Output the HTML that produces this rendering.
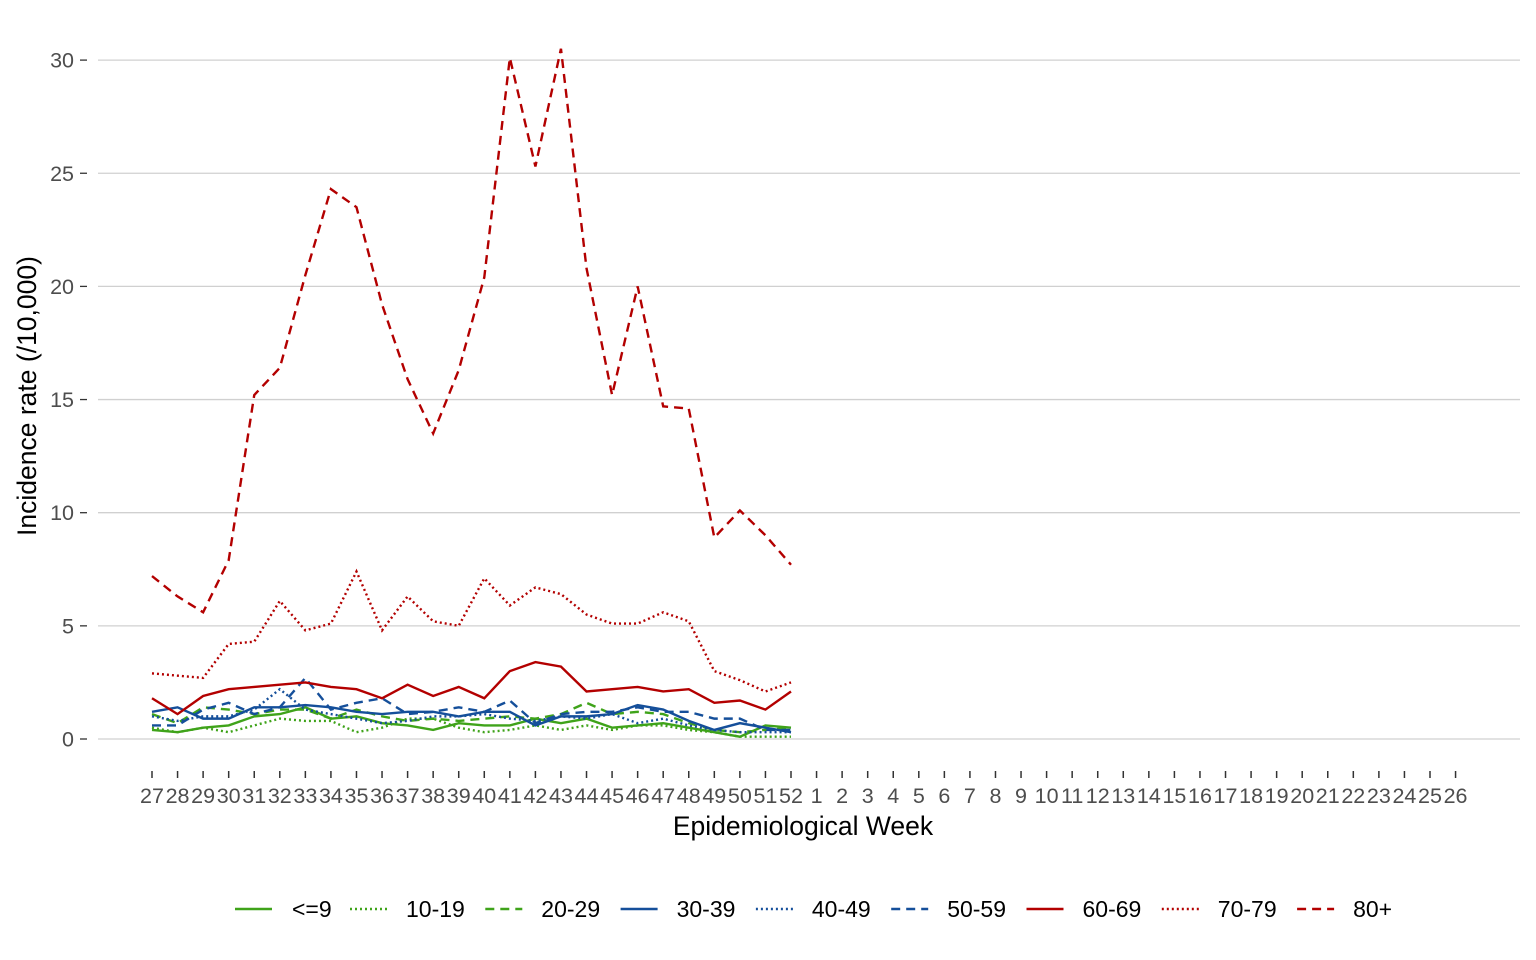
<!DOCTYPE html>
<html><head><meta charset="utf-8"><style>
body{margin:0;background:#fff}
svg{display:block;font-family:"Liberation Sans",sans-serif}
</style></head><body>
<svg id="s" width="1536" height="960" xmlns="http://www.w3.org/2000/svg">
<rect width="1536" height="960" fill="#fff"/>
<g id="grid"></g>
<g id="lines"></g>
<text x="803" y="835" font-size="26.5" text-anchor="middle" fill="#000">Epidemiological Week</text>
<text transform="translate(36,396) rotate(-90)" font-size="26.5" text-anchor="middle" fill="#000">Incidence rate (/10,000)</text>
<g id="leg"></g>
</svg>
<script>
const NS="http://www.w3.org/2000/svg";
function el(p,t,a,txt){const e=document.createElementNS(NS,t);for(const k in a)e.setAttribute(k,a[k]);if(txt!==undefined)e.textContent=txt;document.getElementById(p).appendChild(e);}
const x0=152,dx=25.56,y0=739,ky=22.63;
const X=i=>x0+i*dx, Y=v=>y0-v*ky;
for(let v=0;v<=30;v+=5){el("grid","line",{x1:98,x2:1520,y1:Y(v),y2:Y(v),stroke:"#d0d0d0","stroke-width":1.3});
el("grid","line",{x1:80,x2:87,y1:Y(v),y2:Y(v),stroke:"#333","stroke-width":1.3});
el("grid","text",{x:74,y:Y(v)+7.5,"font-size":21.5,"text-anchor":"end",fill:"#4d4d4d"},String(v));}
const wk=[];for(let w=27;w<=52;w++)wk.push(w);for(let w=1;w<=26;w++)wk.push(w);
wk.forEach((w,i)=>{el("grid","line",{x1:X(i),x2:X(i),y1:771,y2:778,stroke:"#333","stroke-width":1.5});
el("grid","text",{x:X(i),y:803,"font-size":21.5,"text-anchor":"middle",fill:"#4d4d4d"},String(w));});
const G="#3fa31a",B="#154f9a",R="#b30000";
const solid="",dot="2 3",dash="9 6";
const S=[
["<=9",G,solid,[0.4,0.3,0.5,0.6,1.0,1.1,1.4,0.9,1.0,0.7,0.6,0.4,0.7,0.6,0.6,0.9,0.7,0.9,0.5,0.6,0.7,0.5,0.3,0.1,0.6,0.5]],
["10-19",G,dot,[0.5,0.3,0.5,0.3,0.6,0.9,0.8,0.8,0.3,0.5,0.9,0.9,0.5,0.3,0.4,0.6,0.4,0.6,0.4,0.6,0.6,0.4,0.3,0.1,0.1,0.1]],
["20-29",G,dash,[1.1,0.7,1.4,1.3,1.1,1.3,1.3,0.9,1.3,1.0,0.8,0.9,0.8,0.9,1.0,0.9,1.1,1.6,1.1,1.2,1.1,0.7,0.4,0.3,0.4,0.5]],
["30-39",B,solid,[1.2,1.4,0.9,0.9,1.4,1.4,1.5,1.4,1.2,1.1,1.2,1.2,1.0,1.2,1.2,0.6,1.0,1.0,1.1,1.5,1.3,0.8,0.4,0.7,0.5,0.3]],
["40-49",B,dot,[1.0,0.8,1.0,1.0,1.3,2.2,1.3,1.1,0.9,0.7,0.8,1.0,1.0,1.1,0.9,0.8,1.0,0.9,1.1,0.7,0.9,0.6,0.4,0.3,0.3,0.3]],
["50-59",B,dash,[0.6,0.6,1.3,1.6,1.1,1.4,2.7,1.3,1.6,1.8,1.1,1.2,1.4,1.2,1.7,0.7,1.1,1.2,1.2,1.4,1.2,1.2,0.9,0.9,0.4,0.4]],
["60-69",R,solid,[1.8,1.1,1.9,2.2,2.3,2.4,2.5,2.3,2.2,1.8,2.4,1.9,2.3,1.8,3.0,3.4,3.2,2.1,2.2,2.3,2.1,2.2,1.6,1.7,1.3,2.1]],
["70-79",R,dot,[2.9,2.8,2.7,4.2,4.3,6.1,4.8,5.1,7.4,4.8,6.3,5.2,5.0,7.1,5.9,6.7,6.4,5.5,5.1,5.1,5.6,5.2,3.0,2.6,2.1,2.5]],
["80+",R,dash,[7.2,6.3,5.6,7.9,15.2,16.4,20.5,24.3,23.5,19.2,15.9,13.5,16.3,20.4,30.1,25.3,30.5,20.8,15.2,20.0,14.7,14.6,8.9,10.1,9.0,7.7]]
];
S.forEach((s,k)=>{
const a={points:s[3].map((v,i)=>X(i)+","+Y(v)).join(" "),fill:"none",stroke:s[1],"stroke-width":2.4};
if(s[2])a["stroke-dasharray"]=s[2];
el("lines","polyline",a);
const lx=k==0?235:350+(k-1)*135.3;
const b={x1:lx,x2:lx+37,y1:909,y2:909,stroke:s[1],"stroke-width":2.6};if(s[2])b["stroke-dasharray"]=s[2];
el("leg","line",b);
el("leg","text",{x:k==0?292:lx+56,y:917,"font-size":23,fill:"#000"},s[0]);
});
</script>
</body></html>
